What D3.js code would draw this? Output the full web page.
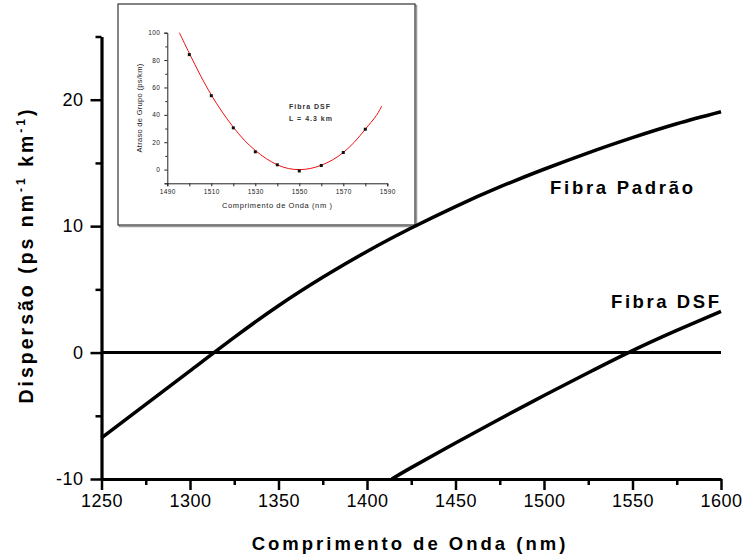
<!DOCTYPE html>
<html><head><meta charset="utf-8">
<script src="https://cdn.jsdelivr.net/npm/d3@7"></script>
<style>body{margin:0;background:#fff}svg{display:block}</style>
</head><body>
<svg id="c" width="746" height="559"></svg>
<script>
// ---- main chart data ----
const padraoWl = [1250,1275,1300,1325,1350,1375,1400,1425,1450,1475,1500,1525,1550,1575,1600];
const padraoD  = [-6.75,-4.1,-1.45,1.2,3.7,5.95,8.0,9.85,11.55,13.1,14.5,15.8,17.0,18.1,19.05];
const dsfWl = [1414,1425,1450,1475,1500,1525,1550,1575,1600];
const dsfD  = [-10,-9.1,-7.15,-5.25,-3.4,-1.6,0.15,1.75,3.25];
const xMajorTicks = [1250,1300,1350,1400,1450,1500,1550,1600];
const xMinorTicks = [1275,1325,1375,1425,1475,1525,1575];
const yMajorTicks = [-10,0,10,20];
const yMinorTicks = [-5,5,15,25];
const curveLabels = ["Fibra Padrão","Fibra DSF"];
// ---- inset data ----
const insetPtWl    = [1500,1510,1520,1530,1540,1550,1560,1570,1580];
const insetPtDelay = [84,54,30.5,13,3.5,-1,3,12.5,29.5];
const insetFitWl    = [1495.5,1500,1505,1510,1515,1520,1525,1530,1535,1540,1545,1550,1555,1560,1565,1570,1575,1580,1585,1587.5];
const insetFitDelay = [100,85,69,54.5,42,31,21.5,14,8,3.5,0.8,0,0.8,3.2,7,12.5,20,29.5,39.5,46.5];
const insetXMajor = [1490,1510,1530,1550,1570,1590];
const insetXMinor = [1500,1520,1540,1560,1580];
const insetYMajor = [0,20,40,60,80,100];
const insetYMinor = [-10,10,30,50,70,90];
const insetNote = ["Fibra DSF","L = 4.3 km"];

const FONT = "'Liberation Sans', Arial, Helvetica, sans-serif";
const svg = d3.select("#c").style("font-family", FONT);
const fmt = d => String(d); // plain hyphen minus as in the original

// ---------- scales ----------
const x = d3.scaleLinear().domain([1250,1600]).range([101.5,721]);
const y = d3.scaleLinear().domain([-10,25]).range([479,36.5]);
const ix = d3.scaleLinear().domain([1490,1590]).range([167.3,387.3]);
const iy = d3.scaleLinear().domain([-10,100]).range([183.3,32.7]);

// ---------- inset ----------
const inset = svg.append("g");
inset.append("rect").attr("x",119.5).attr("y",5.5).attr("width",297).attr("height",221)
  .attr("fill","none").attr("stroke","#999").attr("stroke-width",1.5);
inset.append("rect").attr("x",118).attr("y",4).attr("width",297).attr("height",221)
  .attr("fill","#fff").attr("stroke","#333").attr("stroke-width",1.2);

const ixAxisG = inset.append("g").attr("transform",`translate(0,${iy(-10)})`);
ixAxisG.call(d3.axisBottom(ix).tickValues(insetXMajor).tickSize(3).tickPadding(3).tickFormat(fmt));
ixAxisG.append("g").call(d3.axisBottom(ix).tickValues(insetXMinor).tickSize(3).tickFormat(""))
  .select(".domain").remove();
const iyAxisG = inset.append("g").attr("transform",`translate(${ix(1490)},0)`);
iyAxisG.call(d3.axisLeft(iy).tickValues(insetYMajor).tickSize(3).tickPadding(4).tickFormat(fmt));
iyAxisG.append("g").call(d3.axisLeft(iy).tickValues(insetYMinor).tickSize(2).tickFormat(""))
  .select(".domain").remove();
inset.selectAll(".domain").attr("stroke","#222").attr("stroke-width",1);
inset.selectAll(".tick line").attr("stroke","#222").attr("stroke-width",1);
inset.selectAll(".tick text").attr("font-size",6.5).attr("font-family",FONT).attr("fill","#222")
  .attr("letter-spacing",0.4);

const insetFit = insetFitWl.map((w,i)=>[w,insetFitDelay[i]]);
inset.append("path").datum(insetFit)
  .attr("d", d3.line().x(d=>ix(d[0])).y(d=>iy(d[1])).curve(d3.curveCatmullRom))
  .attr("fill","none").attr("stroke","#ee1111").attr("stroke-width",1);
inset.selectAll("rect.pt").data(insetPtWl.map((w,i)=>[w,insetPtDelay[i]])).enter()
  .append("rect").attr("class","pt")
  .attr("x",d=>ix(d[0])-1.5).attr("y",d=>iy(d[1])-1.5).attr("width",3).attr("height",3)
  .attr("fill","#111");
inset.append("text").attr("x",(ix(1490)+ix(1590))/2).attr("y",208)
  .attr("text-anchor","middle").attr("font-size",7.5).attr("letter-spacing",0.6).attr("fill","#222")
  .text("Comprimento de Onda (nm )");
inset.append("text").attr("transform",`translate(142,${(iy(-10)+iy(100))/2}) rotate(-90)`)
  .attr("text-anchor","middle").attr("font-size",7.5).attr("letter-spacing",0.3).attr("fill","#222")
  .text("Atraso de Grupo (ps/km)");
inset.selectAll("text.note").data(insetNote).enter().append("text").attr("class","note")
  .attr("x",289).attr("y",(d,i)=>109+i*11.5)
  .attr("font-size",7).attr("font-weight","bold").attr("letter-spacing",1).attr("fill","#333")
  .text(d=>d);

// ---------- main axes ----------
const xAxisG = svg.append("g").attr("transform",`translate(0,${y(-10)})`);
xAxisG.call(d3.axisBottom(x).tickValues(xMajorTicks).tickSize(11).tickPadding(4).tickSizeOuter(0).tickFormat(fmt));
xAxisG.append("g").call(d3.axisBottom(x).tickValues(xMinorTicks).tickSize(6).tickFormat(""))
  .select(".domain").remove();
const yAxisG = svg.append("g").attr("transform",`translate(${x(1250)},0)`);
yAxisG.call(d3.axisLeft(y).tickValues(yMajorTicks).tickSize(11).tickPadding(7).tickSizeOuter(0).tickFormat(fmt));
yAxisG.append("g").call(d3.axisLeft(y).tickValues(yMinorTicks).tickSize(6).tickFormat(""))
  .select(".domain").remove();
[xAxisG,yAxisG].forEach(g=>{
  g.selectAll(".domain").attr("stroke","#000").attr("stroke-width",3.2);
  g.selectAll(".tick line").attr("stroke","#000").attr("stroke-width",2.5);
  g.selectAll(".tick text").attr("font-size",18).attr("font-family",FONT).attr("fill","#000")
    .attr("letter-spacing",0.5);
});

// zero line
svg.append("line").attr("x1",x(1250)).attr("x2",x(1600)).attr("y1",y(0)).attr("y2",y(0))
  .attr("stroke","#000").attr("stroke-width",3);

// curves
const line = d3.line().x(d=>x(d[0])).y(d=>y(d[1])).curve(d3.curveNatural);
svg.append("path").datum(padraoWl.map((w,i)=>[w,padraoD[i]])).attr("d",line)
  .attr("fill","none").attr("stroke","#000").attr("stroke-width",3.5);
svg.append("path").datum(dsfWl.map((w,i)=>[w,dsfD[i]])).attr("d",line)
  .attr("fill","none").attr("stroke","#000").attr("stroke-width",3.5);

// curve labels
svg.append("text").attr("x",550).attr("y",194).attr("font-size",18.5).attr("font-weight","bold")
  .attr("textLength",143).attr("lengthAdjust","spacing").text(curveLabels[0]);
svg.append("text").attr("x",611).attr("y",308).attr("font-size",18.5).attr("font-weight","bold")
  .attr("textLength",108).attr("lengthAdjust","spacing").text(curveLabels[1]);

// axis titles
svg.append("text").attr("x",410).attr("y",550).attr("text-anchor","middle")
  .attr("font-size",18.5).attr("font-weight","bold").attr("letter-spacing",3)
  .text("Comprimento de Onda (nm)");
const yt = svg.append("text").attr("transform","translate(33,255) rotate(-90)")
  .attr("text-anchor","middle").attr("font-size",19.5).attr("font-weight","bold").attr("letter-spacing",3);
yt.append("tspan").text("Dispersão (ps nm");
yt.append("tspan").attr("font-size",12).attr("dy",-8).text("-1");
yt.append("tspan").attr("dy",8).text(" km");
yt.append("tspan").attr("font-size",12).attr("dy",-8).text("-1");
yt.append("tspan").attr("dy",8).text(")");
</script>
</body></html>
